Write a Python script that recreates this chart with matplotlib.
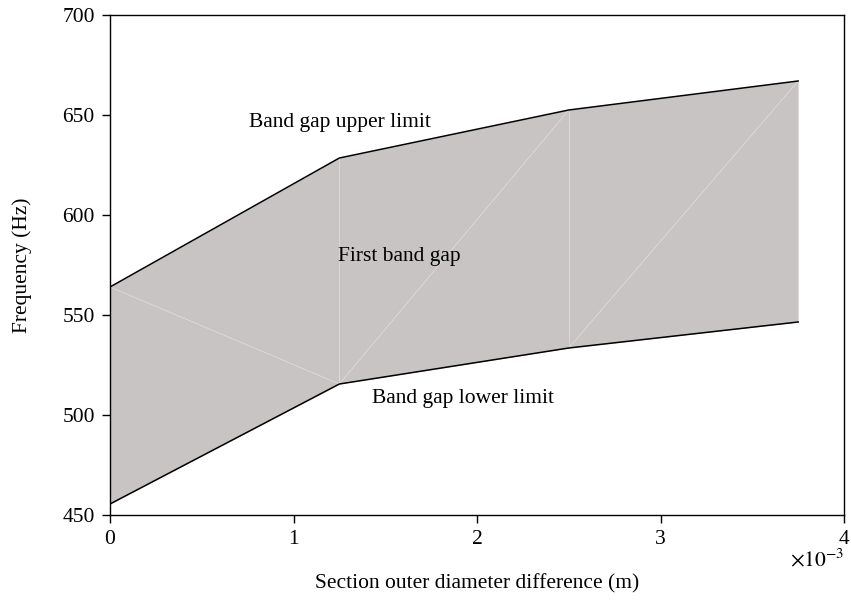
import numpy as np
import matplotlib.pyplot as plt
from matplotlib.ticker import FuncFormatter

plt.rcParams['font.family'] = ['Liberation Serif', 'DejaVu Serif']
plt.rcParams['mathtext.fontset'] = 'stix'

## data ##
diam_diff = [0.0, 1.25e-3, 2.5e-3, 3.75e-3]   # m
upper_limit = [564, 628.5, 652.5, 667]         # Hz
lower_limit = [455.5, 515.5, 533.5, 546.5]     # Hz

fig = plt.figure(figsize=(8.51, 6.01), dpi=100)
ax = fig.add_axes([110/851, 86/601, 734/851, 500/601])

x = np.array(diam_diff)
up = np.array(upper_limit)
lo = np.array(lower_limit)

ax.fill_between(x, lo, up, color='#c8c4c3', linewidth=0)
# faint mesh edges left by the original fill
ax.plot([x[0], x[1]], [up[0], lo[1]], color='#dedcdc', lw=0.6)
for i in range(1, len(x) - 1):
    ax.plot([x[i], x[i]], [lo[i], up[i]], color='#dedcdc', lw=0.6)
    ax.plot([x[i], x[i+1]], [lo[i], up[i+1]], color='#dedcdc', lw=0.6)
ax.plot(x, up, color='black', lw=1.1)
ax.plot(x, lo, color='black', lw=1.1)

ax.set_xlim(0, 4e-3)
ax.set_ylim(450, 700)
ax.set_xticks([0, 1e-3, 2e-3, 3e-3, 4e-3])
ax.set_yticks([450, 500, 550, 600, 650, 700])
ax.xaxis.set_major_formatter(FuncFormatter(lambda v, p: '%g' % round(v * 1e3, 6)))
ax.tick_params(direction='out', length=6, width=1, labelsize=15.5, pad=5)
for s in ax.spines.values():
    s.set_linewidth(1)

ax.text(1.0, -0.09, r'$\times10^{-3}$', transform=ax.transAxes,
        ha='right', va='center', fontsize=15.5)

ax.text(0.76e-3, 646.5, 'Band gap upper limit', fontsize=15.5, va='center')
ax.text(1.24e-3, 579, 'First band gap', fontsize=15.5, va='center')
ax.text(1.43e-3, 508.5, 'Band gap lower limit', fontsize=15.5, va='center')

ax.set_xlabel('Section outer diameter difference (m)', fontsize=15.5, labelpad=18)
ax.set_ylabel('Frequency (Hz)', fontsize=15.5, labelpad=22)

fig.savefig('out.png', dpi=100)
